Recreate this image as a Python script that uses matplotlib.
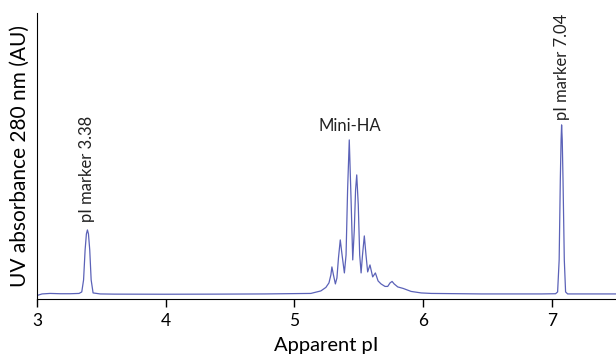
import matplotlib
matplotlib.use("Agg")
import matplotlib.pyplot as plt

plt.rcParams['font.family'] = ['Lato', 'DejaVu Sans']

# trace (apparent pI, absorbance AU)
pi_vals = [3.000, 3.037, 3.10, 3.18, 3.255, 3.325, 3.346, 3.360, 3.372, 3.382,
           3.390, 3.398, 3.408, 3.419, 3.434, 3.489, 3.60, 3.99, 4.38, 4.77,
           5.127, 5.205, 5.244, 5.268, 5.283, 5.291, 5.303, 5.318, 5.330, 5.342,
           5.356, 5.370, 5.388, 5.401, 5.413, 5.426, 5.440, 5.453, 5.465, 5.475,
           5.484, 5.496, 5.507, 5.518, 5.529, 5.543, 5.556, 5.569, 5.587, 5.608,
           5.629, 5.650, 5.673, 5.704, 5.725, 5.743, 5.759, 5.775, 5.803, 5.845,
           5.907, 5.985, 6.063, 6.453, 6.921, 7.030, 7.046, 7.058, 7.067, 7.073,
           7.077, 7.082, 7.088, 7.098, 7.108, 7.124, 7.30, 7.50]
absorb = [0.0005, 0.002, 0.0025, 0.0022, 0.0022, 0.0025, 0.004, 0.016, 0.046, 0.062,
          0.066, 0.062, 0.046, 0.016, 0.003, 0.002, 0.0018, 0.0017, 0.0018, 0.002,
          0.0025, 0.005, 0.0085, 0.013, 0.021, 0.029, 0.021, 0.012, 0.018, 0.038,
          0.056, 0.041, 0.023, 0.041, 0.106, 0.156, 0.096, 0.036, 0.066, 0.106,
          0.121, 0.091, 0.041, 0.023, 0.041, 0.060, 0.041, 0.024, 0.031, 0.019,
          0.023, 0.015, 0.012, 0.0095, 0.0095, 0.013, 0.0145, 0.012, 0.009, 0.0075,
          0.0045, 0.003, 0.0025, 0.002, 0.002, 0.0022, 0.004, 0.036, 0.116, 0.156,
          0.171, 0.156, 0.116, 0.036, 0.004, 0.002, 0.002, 0.002]

labels = ['pI marker 3.38', 'Mini-HA', 'pI marker 7.04']
label_x = [3.39, 5.43, 7.08]
label_y = [0.074, 0.170, 0.176]
label_rot = [90, 0, 90]

fig = plt.figure(figsize=(6.16, 3.58), dpi=100)
ax = fig.add_axes([0.0605, 0.165, 0.9395, 0.799])

ax.plot(pi_vals, absorb, color='#5b62b8', lw=0.9, solid_joinstyle='round')

for t, x, y, r in zip(labels, label_x, label_y, label_rot):
    ax.text(x, y, t, rotation=r, ha='center',
            va='bottom' if r == 90 else 'center', fontsize=12, color='#222222')

ax.set_xlim(3, 7.5)
ax.set_ylim(-0.003, 0.283)
ax.set_xticks([3, 4, 5, 6, 7])
ax.set_yticks([])
ax.tick_params(axis='x', direction='out', length=6, width=1, labelsize=12.5, pad=4)
ax.spines['top'].set_visible(False)
ax.spines['right'].set_visible(False)
ax.set_xlabel('Apparent pI', fontsize=14.5, labelpad=6)
ax.set_ylabel('UV absorbance 280 nm (AU)', fontsize=15, labelpad=5)

plt.savefig('out.png', dpi=100)
